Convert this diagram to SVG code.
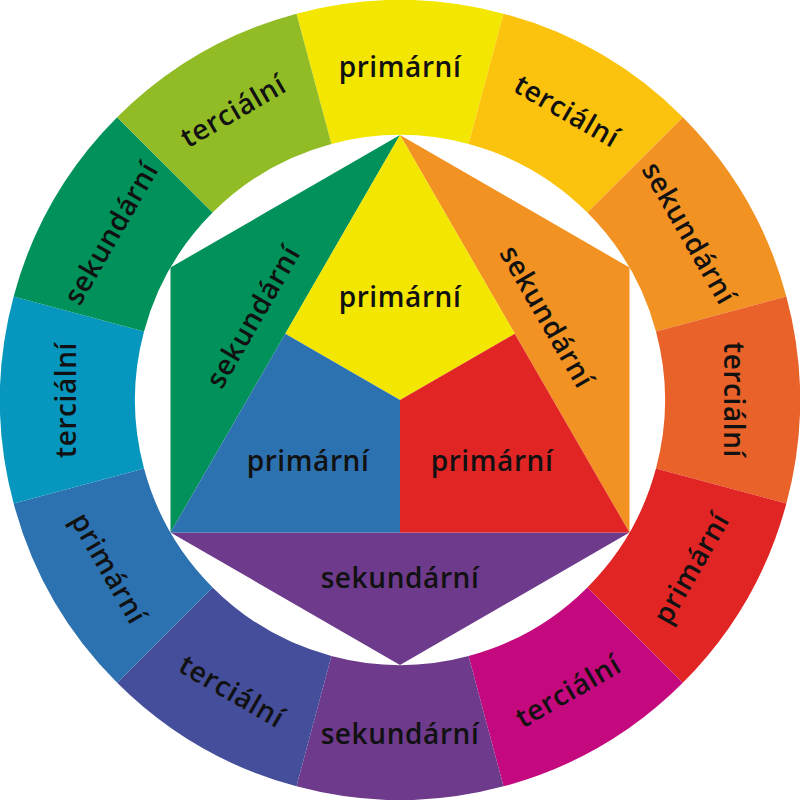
<svg xmlns="http://www.w3.org/2000/svg" width="800" height="800" viewBox="0 0 800 800">
<style>
text{font-family:"Open Sans","Liberation Sans",sans-serif;font-weight:600;font-size:28px;letter-spacing:0.6px;fill:#111;text-anchor:middle;dominant-baseline:central}
</style>
<rect width="800" height="800" fill="#fff"/>
<g id="ring">
<g id="seg-top"><path d="M296.47 13.63A400 400 0 0 1 503.53 13.63L468.59 144.03A265 265 0 0 0 331.41 144.03Z" fill="#F3E600"/><text transform="translate(400,66)">primární</text></g>
<g id="seg-m60"><path d="M503.53 13.63A400 400 0 0 1 682.84 117.16L587.38 212.62A265 265 0 0 0 468.59 144.03Z" fill="#FCC30E"/><text transform="translate(567.5,109.9) rotate(30)">terciální</text></g>
<g id="seg-m30"><path d="M682.84 117.16A400 400 0 0 1 786.37 296.47L655.97 331.41A265 265 0 0 0 587.38 212.62Z" fill="#F29222"/><text transform="translate(690.1,232.5) rotate(60)">sekundární</text></g>
<g id="seg-0"><path d="M786.37 296.47A400 400 0 0 1 786.37 503.53L655.97 468.59A265 265 0 0 0 655.97 331.41Z" fill="#E8622A"/><text transform="translate(735,400) rotate(90)">terciální</text></g>
<g id="seg-30"><path d="M786.37 503.53A400 400 0 0 1 682.84 682.84L587.38 587.38A265 265 0 0 0 655.97 468.59Z" fill="#E12525"/><text transform="translate(690.1,567.5) rotate(-60)">primární</text></g>
<g id="seg-60"><path d="M682.84 682.84A400 400 0 0 1 503.53 786.37L468.59 655.97A265 265 0 0 0 587.38 587.38Z" fill="#C4087D"/><text transform="translate(567.5,690.1) rotate(-30)">terciální</text></g>
<g id="seg-90"><path d="M503.53 786.37A400 400 0 0 1 296.47 786.37L331.41 655.97A265 265 0 0 0 468.59 655.97Z" fill="#6E3A8C"/><text transform="translate(400,733)">sekundární</text></g>
<g id="seg-120"><path d="M296.47 786.37A400 400 0 0 1 117.16 682.84L212.62 587.38A265 265 0 0 0 331.41 655.97Z" fill="#454E9A"/><text transform="translate(232.5,690.1) rotate(30)">terciální</text></g>
<g id="seg-150"><path d="M117.16 682.84A400 400 0 0 1 13.63 503.53L144.03 468.59A265 265 0 0 0 212.62 587.38Z" fill="#2D72B0"/><text transform="translate(109.9,567.5) rotate(60)">primární</text></g>
<g id="seg-180"><path d="M13.63 503.53A400 400 0 0 1 13.63 296.47L144.03 331.41A265 265 0 0 0 144.03 468.59Z" fill="#0797BE"/><text transform="translate(65,400) rotate(-90)">terciální</text></g>
<g id="seg-210"><path d="M13.63 296.47A400 400 0 0 1 117.16 117.16L212.62 212.62A265 265 0 0 0 144.03 331.41Z" fill="#00925A"/><text transform="translate(109.9,232.5) rotate(-60)">sekundární</text></g>
<g id="seg-240"><path d="M117.16 117.16A400 400 0 0 1 296.47 13.63L331.41 144.03A265 265 0 0 0 212.62 212.62Z" fill="#91BC26"/><text transform="translate(232.5,109.9) rotate(-30)">terciální</text></g>
</g>
<g id="hexagon">
<g id="tri-green"><path d="M400 135L170.5 267.5L170.5 532.5Z" fill="#00925A"/><text transform="translate(252,316) rotate(-60)">sekundární</text></g>
<g id="tri-orange"><path d="M400 135L629.5 267.5L629.5 532.5Z" fill="#F29222"/><text transform="translate(548,316) rotate(60)">sekundární</text></g>
<g id="tri-purple"><path d="M170.5 532.5L629.5 532.5L400 665Z" fill="#6E3A8C"/><text transform="translate(400,577)">sekundární</text></g>
<g id="kite-yellow"><path d="M400 135L285.25 333.75L400 400L514.75 333.75Z" fill="#F3E600"/><text transform="translate(400,296)">primární</text></g>
<g id="kite-blue"><path d="M170.5 532.5L285.25 333.75L400 400L400 532.5Z" fill="#2D72B0"/><text transform="translate(308,460)">primární</text></g>
<g id="kite-red"><path d="M629.5 532.5L514.75 333.75L400 400L400 532.5Z" fill="#E12525"/><text transform="translate(492,460)">primární</text></g>
</g>
</svg>
